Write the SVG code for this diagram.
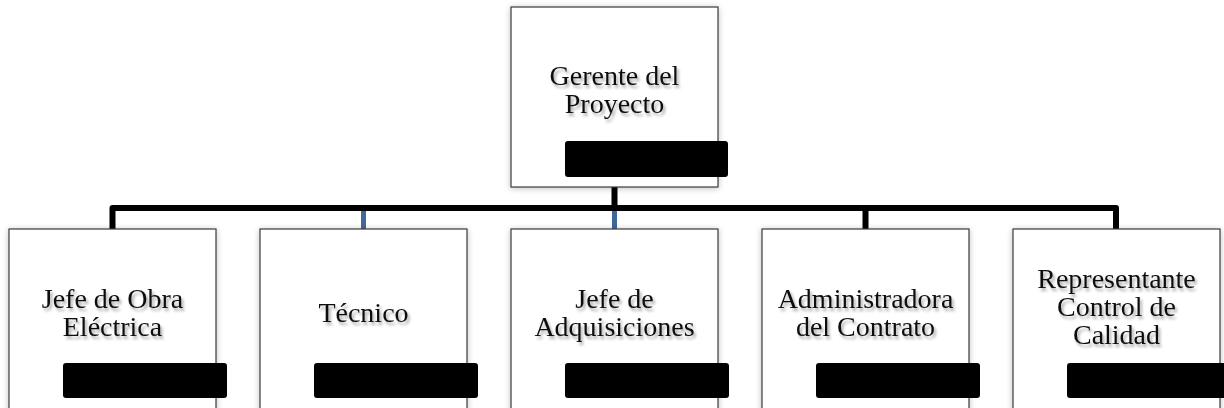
<svg xmlns="http://www.w3.org/2000/svg" width="1224" height="408" viewBox="0 0 1224 408">
<style>
.box{fill:#ffffff;stroke:#3a3a3a;stroke-width:1.2;filter:url(#bs)}
.bar{fill:#000000}
.lbl{font-family:"Liberation Serif","Times New Roman",serif;font-size:28px;fill:#111111;text-anchor:middle;filter:url(#ts)}
.conn{fill:none;stroke:#000000;stroke-width:6;stroke-linejoin:round}
.blue{fill:none;stroke:#41689A;stroke-width:5}
</style>
<defs>
<filter id="bs" x="-10%" y="-10%" width="120%" height="120%">
<feGaussianBlur in="SourceAlpha" stdDeviation="3"/>
<feOffset dx="0" dy="1" result="b"/>
<feComponentTransfer><feFuncA type="linear" slope="0.25"/></feComponentTransfer>
<feMerge><feMergeNode/><feMergeNode in="SourceGraphic"/></feMerge>
</filter>
<filter id="ts" x="-10%" y="-20%" width="120%" height="150%">
<feGaussianBlur in="SourceAlpha" stdDeviation="1.5"/>
<feOffset dx="1.5" dy="2.5" result="b"/>
<feComponentTransfer><feFuncA type="linear" slope="0.35"/></feComponentTransfer>
<feMerge><feMergeNode/><feMergeNode in="SourceGraphic"/></feMerge>
</filter>
</defs>
<rect width="1224" height="408" fill="#ffffff"/>
<g id="connectors">
<path class="conn" d="M614.5,187 V208"/>
<path class="conn" d="M112.5,229 V208 H1116 V229"/>
<path class="conn" d="M865.5,208 V229"/>
<path class="blue" d="M363.5,211 V229"/>
<path class="blue" d="M614.5,211 V229"/>
</g>
<g id="gerente">
<rect class="box" x="511" y="7" width="207" height="180"/>
<text class="lbl" x="614.5" y="85">Gerente del</text>
<text class="lbl" x="614.5" y="113">Proyecto</text>
<rect class="bar" x="565" y="141" width="163" height="36" rx="3"/>
</g>
<g id="jefe-obra">
<rect class="box" x="9" y="229" width="207" height="200"/>
<text class="lbl" x="112.5" y="308">Jefe de Obra</text>
<text class="lbl" x="112.5" y="336">Eléctrica</text>
<rect class="bar" x="63" y="363" width="164" height="35" rx="3"/>
</g>
<g id="tecnico">
<rect class="box" x="260" y="229" width="207" height="200"/>
<text class="lbl" x="363.5" y="322">Técnico</text>
<rect class="bar" x="314" y="363" width="164" height="35" rx="3"/>
</g>
<g id="jefe-adq">
<rect class="box" x="511" y="229" width="207" height="200"/>
<text class="lbl" x="614.5" y="308">Jefe de</text>
<text class="lbl" x="614.5" y="336">Adquisiciones</text>
<rect class="bar" x="565" y="363" width="164" height="35" rx="3"/>
</g>
<g id="administradora">
<rect class="box" x="762" y="229" width="207" height="200"/>
<text class="lbl" x="865.5" y="308">Administradora</text>
<text class="lbl" x="865.5" y="336">del Contrato</text>
<rect class="bar" x="816" y="363" width="164" height="35" rx="3"/>
</g>
<g id="representante">
<rect class="box" x="1013" y="229" width="207" height="200"/>
<text class="lbl" x="1116.5" y="288">Representante</text>
<text class="lbl" x="1116.5" y="316">Control de</text>
<text class="lbl" x="1116.5" y="344">Calidad</text>
<rect class="bar" x="1067" y="363" width="164" height="35" rx="3"/>
</g>
</svg>
